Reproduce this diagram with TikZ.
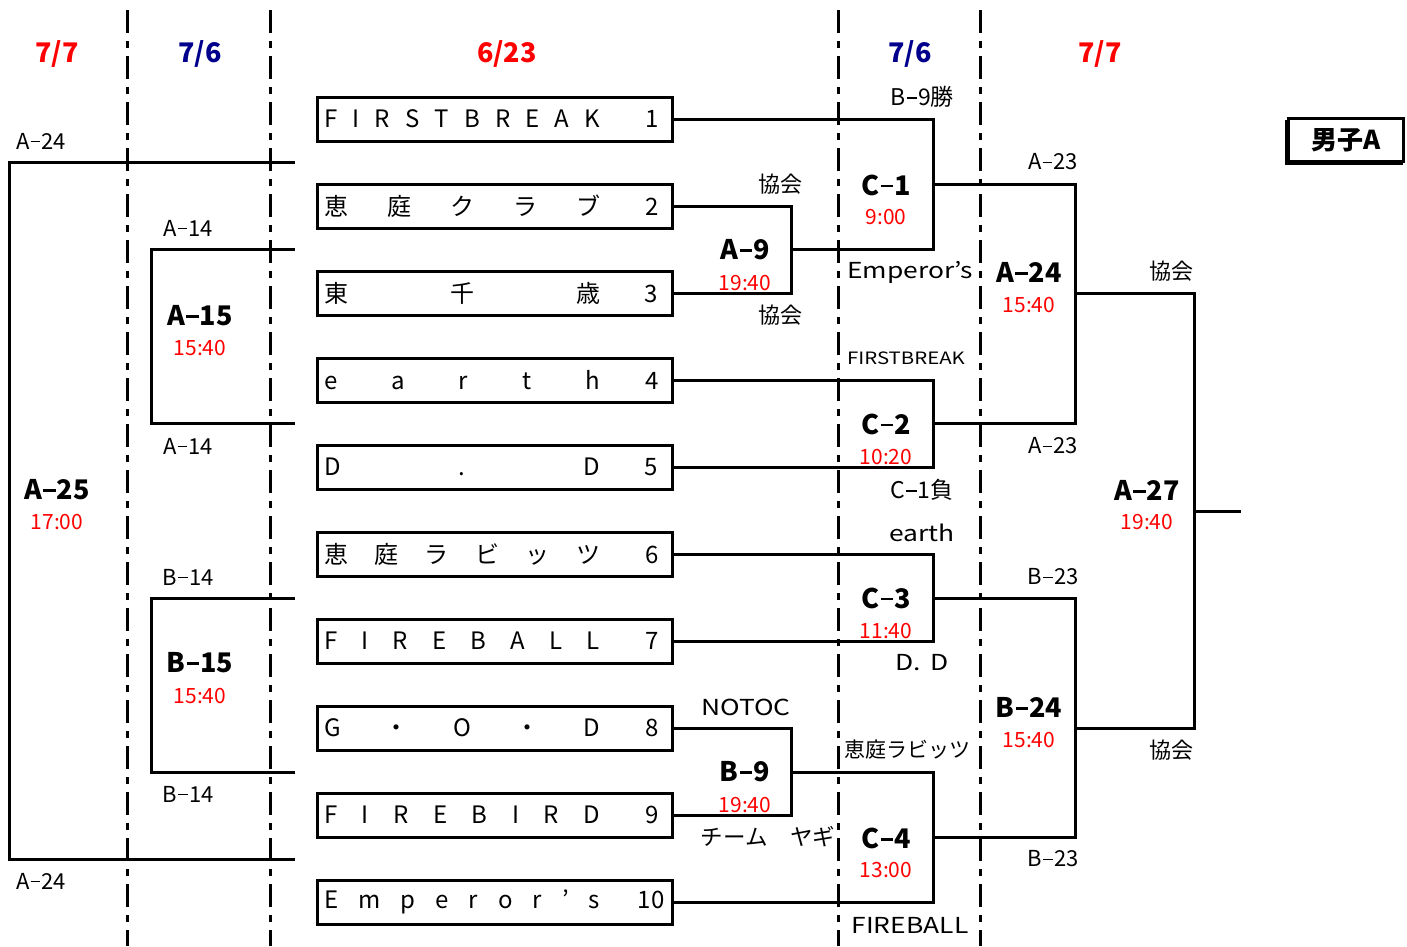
\documentclass[tikz,border=0pt]{standalone}
\usepackage{fontspec}
\setmainfont{Noto Sans CJK JP}
\newfontfamily\latw[FakeStretch=1.2]{Noto Sans CJK JP}
\definecolor{tred}{RGB}{255,0,0}
\definecolor{tnavy}{RGB}{0,0,140}
\newcommand\hy{\hspace{0.05em}\rule[0.3em]{0.45em}{0.07em}\hspace{0.05em}}
\newcommand\hyb{\hspace{0.05em}\rule[0.28em]{0.45em}{0.11em}\hspace{0.05em}}
\newcommand\tname[3][45pt]{\makebox[341pt][l]{\makebox[276pt][s]{#2}\hspace{#1}#3}}
\tikzset{
 br/.style={line width=3pt, line join=miter},
 sep/.style={line width=3pt, dash pattern=on 23pt off 8pt on 7pt off 8pt},
 teambox/.style={draw, line width=3pt, minimum width=355pt, minimum height=44pt, inner sep=0pt, font=\fontsize{24}{24}\selectfont},
 mname/.style={font=\bfseries\fontsize{27}{27}\selectfont, inner sep=0pt},
 mtime/.style={text=tred, font=\fontsize{21}{21}\selectfont, inner sep=0pt},
 lab/.style={font=\fontsize{22}{22}\selectfont, inner sep=0pt},
 wlab/.style={font=\latw\fontsize{22}{22}\selectfont, inner sep=0pt},
 smlab/.style={font=\latw\fontsize{17}{17}\selectfont, inner sep=0pt},
 datelab/.style={font=\bfseries\fontsize{27}{27}\selectfont, inner sep=0pt},
}
\begin{document}
\begin{tikzpicture}[x=1pt,y=-1pt]
\useasboundingbox (0,0) rectangle (1407,946);
\fill[white] (0,0) rectangle (1407,946);

% separators
\foreach \xx/\nm in {127/s1,270/s2,838/s3,980/s4}{
  \coordinate (\nm t) at (\xx,10);
  \coordinate (\nm b) at (\xx,946);
  \draw[sep] (\nm t) -- (\nm b);
}

% dates
\node[datelab, text=tred]  (d1) at (57,54) {7/7};
\node[datelab, text=tnavy] (d2) at (200,54) {7/6};
\node[datelab, text=tred]  (d3) at (507,54) {6/23};
\node[datelab, text=tnavy] (d4) at (910,54) {7/6};
\node[datelab, text=tred]  (d5) at (1100,54) {7/7};

% category box
\fill[black] (1285,120) rectangle (1403,165);
\node[draw, line width=3.5pt, fill=white, minimum width=115pt, minimum height=43pt, inner sep=0pt,
      font=\bfseries\fontsize{26}{26}\selectfont] (cat) at (1346,140) {男子A};

% team boxes
\node[teambox] (t1) at (494.5,119) {\tname{F\hfill I\hfill R\hfill S\hfill T\hfill B\hfill R\hfill E\hfill A\hfill K}{1}};
\node[teambox] (t2) at (494.5,206) {\tname{恵\hfill 庭\hfill ク\hfill ラ\hfill ブ}{2}};
\node[teambox] (t3) at (494.5,293) {\tname{東\hfill 千\hfill 歳}{3}};
\node[teambox] (t4) at (494.5,380) {\tname{e\hfill a\hfill r\hfill t\hfill h}{4}};
\node[teambox] (t5) at (494.5,467) {\tname{D\hfill .\hfill D}{5}};
\node[teambox] (t6) at (494.5,554) {\tname{恵\hfill 庭\hfill ラ\hfill ビ\hfill ッ\hfill ツ}{6}};
\node[teambox] (t7) at (494.5,641) {\tname{F\hfill I\hfill R\hfill E\hfill B\hfill A\hfill L\hfill L}{7}};
\node[teambox] (t8) at (494.5,728) {\tname{G\hfill ・\hfill O\hfill ・\hfill D}{8}};
\node[teambox] (t9) at (494.5,815) {\tname{F\hfill I\hfill R\hfill E\hfill B\hfill I\hfill R\hfill D}{9}};
\node[teambox] (t10) at (494.5,902) {\tname[38pt]{E\hfill m\hfill p\hfill e\hfill r\hfill o\hfill r\hfill ’\hfill s}{10}};

% bracket joints
\coordinate (a9) at (791,249);
\coordinate (b9) at (791,772);
\coordinate (c1) at (933,184);
\coordinate (c2) at (933,423);
\coordinate (c3) at (933,598);
\coordinate (c4) at (933,837);
\coordinate (a24) at (1075,293);
\coordinate (b24) at (1075,728);
\coordinate (a27) at (1194,511);
\coordinate (fin) at (1241,511);

\draw[br] (t2.east) -| (a9) |- (t3.east);
\draw[br] (t1.east) -| (c1) |- (a9);
\draw[br] (t4.east) -| (c2) |- (t5.east);
\draw[br] (t6.east) -| (c3) |- (t7.east);
\draw[br] (t8.east) -| (b9) |- (t9.east);
\draw[br] (b9) -| (c4) |- (t10.east);
\draw[br] (c1) -| (a24) |- (c2);
\draw[br] (c3) -| (b24) |- (c4);
\draw[br] (a24) -| (a27) |- (b24);
\draw[br] (a27) -- (fin);

% left brackets
\coordinate (a15t) at (295,249);
\coordinate (a15b) at (295,423);
\coordinate (a15) at (151,336);
\coordinate (b15t) at (295,598);
\coordinate (b15b) at (295,772);
\coordinate (b15) at (151,685);
\coordinate (a25t) at (295,162);
\coordinate (a25b) at (295,859);
\coordinate (a25) at (9,510);
\draw[br] (a15t) -| (a15) |- (a15b);
\draw[br] (b15t) -| (b15) |- (b15b);
\draw[br] (a25t) -| (a25) |- (a25b);

% match labels
\node[mname] (la9) at (745,250) {A\hyb 9};
\node[mtime] (ta9) at (745,283) {19:40};
\node[mname] (lb9) at (745,772) {B\hyb 9};
\node[mtime] (tb9) at (745,805) {19:40};
\node[mname] (lc1) at (886,185) {C\hyb 1};
\node[mtime] (tc1) at (886,217) {9:00};
\node[mname] (lc2) at (886,424) {C\hyb 2};
\node[mtime] (tc2) at (886,457) {10:20};
\node[mname] (lc3) at (886,598) {C\hyb 3};
\node[mtime] (tc3) at (886,631) {11:40};
\node[mname] (lc4) at (886,838) {C\hyb 4};
\node[mtime] (tc4) at (886,870) {13:00};
\node[mname] (la24) at (1029,272) {A\hyb 24};
\node[mtime] (ta24) at (1029,305) {15:40};
\node[mname] (lb24) at (1029,707) {B\hyb 24};
\node[mtime] (tb24) at (1029,740) {15:40};
\node[mname] (la27) at (1147,490) {A\hyb 27};
\node[mtime] (ta27) at (1147,522) {19:40};
\node[mname] (la15) at (200,316) {A\hyb 15};
\node[mtime] (ta15) at (200,348) {15:40};
\node[mname] (lb15) at (200,663) {B\hyb 15};
\node[mtime] (tb15) at (200,696) {15:40};
\node[mname] (la25) at (57,490) {A\hyb 25};
\node[mtime] (ta25) at (57,522) {17:00};

% side labels
\node[lab] (k1) at (780,184) {協会};
\node[lab] (k2) at (780,315) {協会};
\node[lab, font=\fontsize{23}{23}\selectfont] (n1) at (922,97) {B\hy 9勝};
\node[wlab] (n2) at (910,272) {Emperor’s};
\node[smlab] (n3) at (906,358) {FIRSTBREAK};
\node[lab, font=\fontsize{23}{23}\selectfont] (n4) at (922,490) {C\hy 1負};
\node[wlab] (n5) at (922,533) {earth};
\node[wlab] (n6) at (922,663) {D.\hspace{0.45em}D};
\node[wlab] (n7) at (746,707) {NOTOC};
\node[lab, font=\fontsize{21}{21}\selectfont] (n8) at (907,750) {恵庭ラビッツ};
\node[lab, font=\fontsize{22.5}{22.5}\selectfont] (n9) at (768,837) {チーム　ヤギ};
\node[wlab] (n10) at (910,925) {FIREBALL};
\node[lab] (m1) at (1053,162) {A\hy 23};
\node[lab] (m2) at (1053,446) {A\hy 23};
\node[lab] (m3) at (1053,577) {B\hy 23};
\node[lab] (m4) at (1053,859) {B\hy 23};
\node[lab] (k3) at (1171,271) {協会};
\node[lab] (k4) at (1171,750) {協会};
\node[lab] (p1) at (188,228) {A\hy 14};
\node[lab] (p2) at (188,446) {A\hy 14};
\node[lab] (p3) at (188,577) {B\hy 14};
\node[lab] (p4) at (188,794) {B\hy 14};
\node[lab] (q1) at (41,141) {A\hy 24};
\node[lab] (q2) at (41,881) {A\hy 24};
\end{tikzpicture}
\end{document}
